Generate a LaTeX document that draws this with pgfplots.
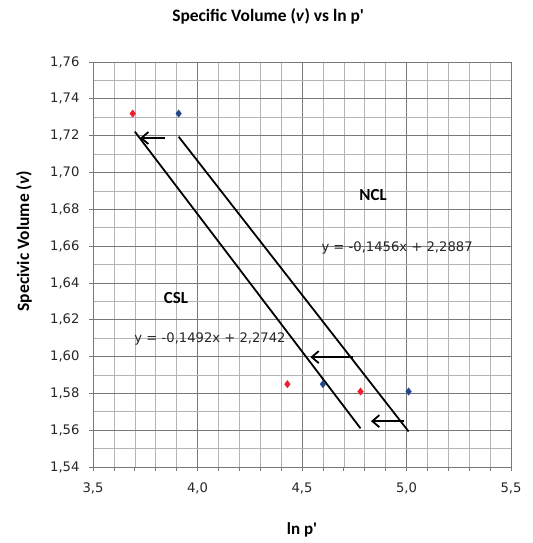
\documentclass[border=0pt]{standalone}
\usepackage{pgfplots}
\pgfplotsset{compat=1.18}
\usepackage{fontspec}
\setmainfont{DejaVu Sans}
\newfontfamily\calib{Carlito}
\usetikzlibrary{arrows.meta}
\definecolor{majg}{RGB}{120,120,120}
\definecolor{ming}{RGB}{180,180,180}
\definecolor{myred}{RGB}{235,30,45}
\definecolor{myblue}{RGB}{35,70,140}
\begin{document}
\begin{tikzpicture}
\begin{axis}[
  scale only axis, width=418bp, height=405bp,
  xmin=3.5, xmax=5.5, ymin=1.54, ymax=1.76,
  xtick={3.5,4.0,4.5,5.0,5.5}, ytick={1.54,1.56,...,1.761},
  minor x tick num=4, minor y tick num=1,
  grid=both,
  major grid style={majg, line width=0.7pt},
  minor grid style={ming, line width=0.6pt},
  axis line style={majg, line width=0.7pt},
  tick style={majg, line width=0.7pt},
  minor y tick style={draw=none},
  tick align=outside, major tick length=4bp, minor tick length=4bp,
  xtick pos=bottom, ytick pos=left,
  /pgf/number format/assume math mode=true,
  /pgf/number format/use comma,
  xticklabel style={/pgf/number format/fixed, /pgf/number format/fixed zerofill, /pgf/number format/precision=1, font=\fontsize{13.2}{15}\selectfont\color{black!85}},
  yticklabel style={/pgf/number format/fixed, /pgf/number format/fixed zerofill, /pgf/number format/precision=2, font=\fontsize{13.2}{15}\selectfont\color{black!85}, xshift=-6bp},
  xticklabel shift=8bp,
  title={\calib\bfseries Specific Volume (\textit{v}) vs ln p'},
  title style={font=\fontsize{17.5}{20}\selectfont, at={(axis description cs:0.419,1)}, anchor=center, yshift=40bp},
  xlabel={\calib\bfseries ln p'},
  xlabel style={font=\fontsize{17}{20}\selectfont, at={(axis description cs:0.5,0)}, anchor=center, yshift=-63bp},
  ylabel={\calib\bfseries Specivic Volume (\textit{v})},
  ylabel style={font=\fontsize{17.5}{20}\selectfont, at={(axis description cs:-0.165,0.558)}, anchor=center},
  clip=false,
]
\addplot[only marks, mark=diamond*, mark size=3.7bp, myred, mark options={fill=myred, draw=myred}]
  coordinates {(3.69,1.732) (4.43,1.585) (4.78,1.581)};
\addplot[only marks, mark=diamond*, mark size=3.7bp, myblue, mark options={fill=myblue, draw=myblue}]
  coordinates {(3.91,1.732) (4.60,1.585) (5.01,1.581)};
\addplot[black, line width=1.8pt] coordinates {(3.70,1.7222) (4.78,1.5610)};
\addplot[black, line width=1.8pt] coordinates {(3.91,1.7194) (5.01,1.5593)};
\addplot[black, line width=1.8pt, -{Straight Barb[length=7bp,width=12bp]}] coordinates {(3.845,1.7187) (3.725,1.7187)};
\addplot[black, line width=1.8pt, -{Straight Barb[length=7bp,width=12bp]}] coordinates {(4.745,1.5997) (4.54,1.5997)};
\addplot[black, line width=1.8pt, -{Straight Barb[length=7bp,width=12bp]}] coordinates {(4.99,1.5649) (4.83,1.5649)};
\node[font=\calib\bfseries\fontsize{17}{20}\selectfont] at (axis cs:4.84,1.6877) {NCL};
\node[font=\calib\bfseries\fontsize{17}{20}\selectfont] at (axis cs:3.897,1.632) {CSL};
\node[font=\fontsize{13.2}{15}\selectfont, text=black!85] at (axis cs:4.955,1.659) {y = -0,1456x + 2,2887};
\node[font=\fontsize{13.2}{15}\selectfont, text=black!85] at (axis cs:4.06,1.6095) {y = -0,1492x + 2,2742};
\end{axis}
\pgfresetboundingbox
\path ([shift={(-93bp,-76bp)}]current axis.south west) rectangle ([shift={(22bp,62bp)}]current axis.north east);
\end{tikzpicture}
\end{document}
